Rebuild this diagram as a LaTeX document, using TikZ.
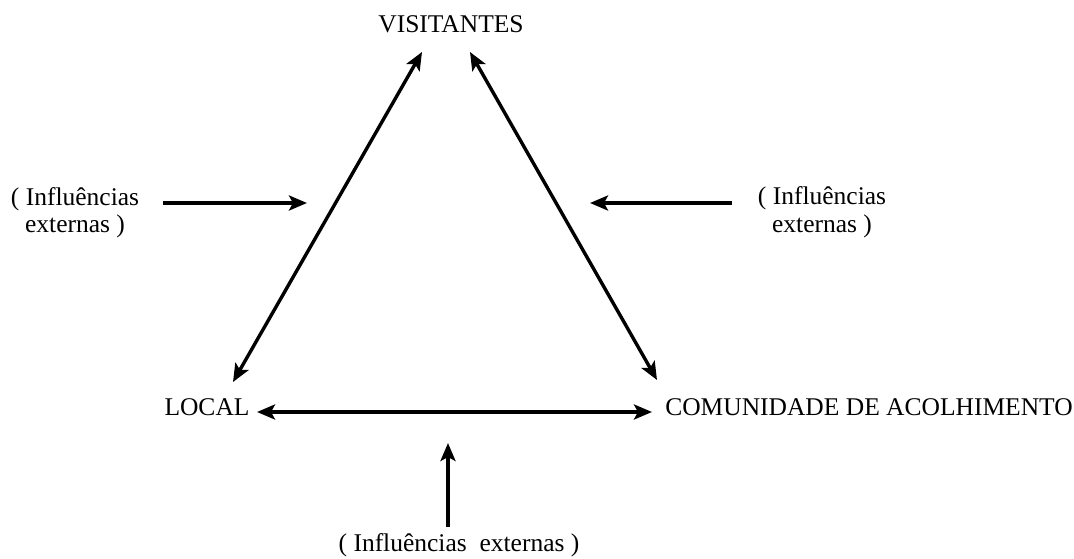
\documentclass[tikz,border=0pt]{standalone}
\usepackage{fontspec}
\setmainfont{Liberation Serif}
\usetikzlibrary{arrows.meta}
\tikzset{
  lbl/.style={inner sep=0pt, anchor=base, font=\fontsize{25.5}{28}\selectfont, align=center},
  tip/.style={Stealth[length=18pt,width=15pt,inset=4pt]},
  arr/.style={line width=3.4pt, -{Stealth[length=18pt,width=15pt,inset=4pt]}},
  darr/.style={line width=3.4pt, {Stealth[length=18pt,width=15pt,inset=4pt]}-{Stealth[length=18pt,width=15pt,inset=4pt]}}
}
\begin{document}
\begin{tikzpicture}[x=1pt,y=-1pt]
\useasboundingbox (0,0) rectangle (1074,559);
\node[lbl] (vis) at (451,33) {VISITANTES};
\node[lbl] (loc) at (207,415) {LOCAL};
\node[lbl] (com) at (869,415) {COMUNIDADE DE ACOLHIMENTO};
\node[lbl] (extl) at (75,233) {( Influências\\externas )};
\node[lbl] (extr) at (822,232) {( Influências\\externas )};
\node[lbl] (extb) at (459,551) {( Influências~ externas )};
% endpoints
\coordinate (a1) at (422,52);
\coordinate (a2) at (233,382);
\coordinate (b1) at (470,52);
\coordinate (b2) at (657,380);
\coordinate (c1) at (257,412);
\coordinate (c2) at (652,412);
\coordinate (l1) at (163,203);
\coordinate (l2) at (307,203);
\coordinate (r1) at (732,203);
\coordinate (r2) at (590,203);
\coordinate (v1) at (448,527);
\coordinate (v2) at (448,443);
\draw[darr] (a2) -- (a1);
\draw[darr] (b1) -- (b2);
\draw[darr] (c1) -- (c2);
\draw[arr] (l1) -- (l2);
\draw[arr] (r1) -- (r2);
\draw[arr] (v1) -- (v2);
\end{tikzpicture}
\end{document}
